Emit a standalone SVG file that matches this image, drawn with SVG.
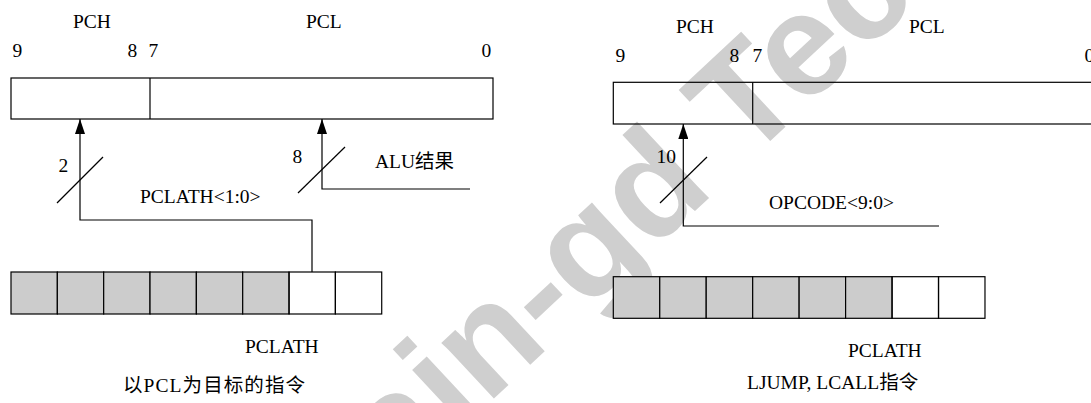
<svg xmlns="http://www.w3.org/2000/svg" width="1091" height="403" viewBox="0 0 1091 403">
  <style>
    .t { font-family: "Liberation Serif", "Noto Sans CJK SC", serif; font-size: 19.5px; fill: #000; }
    .box { fill: none; stroke: #000; stroke-width: 1.2; }
    .cellg { fill: #cccccc; stroke: #000; stroke-width: 1.2; }
    .cellw { fill: none; stroke: #000; stroke-width: 1.2; }
    .wire { fill: none; stroke: #000; stroke-width: 1.2; }
    .wm { font-family: "Liberation Sans", Arial, sans-serif; font-weight: bold; font-size: 145px; fill: #cfcfcf; }
  </style>
  <defs>
    <marker id="arr" viewBox="0 0 15 10" refX="15" refY="5" markerWidth="15" markerHeight="10" markerUnits="userSpaceOnUse" orient="auto">
      <path d="M0,0 L15,5 L0,10 z" fill="#000"/>
    </marker>
  </defs>
  <rect width="1091" height="403" fill="#fff"/>
  <text class="wm" transform="translate(398,488) rotate(-43)">ain-gd Tec</text>

  <g id="left-pc">
    <rect class="box" x="11" y="78" width="482" height="41"/>
    <line class="box" x1="150" y1="78" x2="150" y2="119"/>
    <text class="t" x="73" y="28">PCH</text>
    <text class="t" x="306" y="28">PCL</text>
    <text class="t" x="12.5" y="57">9</text>
    <text class="t" x="127.5" y="57">8</text>
    <text class="t" x="148.5" y="57">7</text>
    <text class="t" x="481.5" y="57">0</text>
  </g>
  <g id="left-pclath">
    <rect class="cellg" x="11" y="272" width="46.34" height="42"/>
    <rect class="cellg" x="57.34" y="272" width="46.34" height="42"/>
    <rect class="cellg" x="103.68" y="272" width="46.34" height="42"/>
    <rect class="cellg" x="150.02" y="272" width="46.34" height="42"/>
    <rect class="cellg" x="196.36" y="272" width="46.34" height="42"/>
    <rect class="cellg" x="242.7" y="272" width="46.34" height="42"/>
    <rect class="cellw" x="289.04" y="272" width="46.34" height="42"/>
    <rect class="cellw" x="335.38" y="272" width="46.34" height="42"/>
    <text class="t" x="245" y="353">PCLATH</text>
  </g>
  <g id="left-caption">
    <text class="t" x="123" y="392" textLength="182" lengthAdjust="spacing">以PCL为目标的指令</text>
  </g>

  <g id="right-pc">
    <rect class="box" x="613.3" y="82.3" width="500" height="41.7"/>
    <line class="box" x1="752.7" y1="82.3" x2="752.7" y2="124"/>
    <text class="t" x="676" y="33">PCH</text>
    <text class="t" x="909" y="33">PCL</text>
    <text class="t" x="615.5" y="62">9</text>
    <text class="t" x="729.5" y="62">8</text>
    <text class="t" x="752.5" y="62">7</text>
    <text class="t" x="1084.5" y="62">0</text>
  </g>
  <g id="right-pclath">
    <rect class="cellg" x="613.3" y="276.7" width="46.46" height="41.6"/>
    <rect class="cellg" x="659.76" y="276.7" width="46.46" height="41.6"/>
    <rect class="cellg" x="706.22" y="276.7" width="46.46" height="41.6"/>
    <rect class="cellg" x="752.68" y="276.7" width="46.46" height="41.6"/>
    <rect class="cellg" x="799.14" y="276.7" width="46.46" height="41.6"/>
    <rect class="cellg" x="845.6" y="276.7" width="46.46" height="41.6"/>
    <rect class="cellw" x="892.06" y="276.7" width="46.46" height="41.6"/>
    <rect class="cellw" x="938.52" y="276.7" width="46.46" height="41.6"/>
    <text class="t" x="848" y="357">PCLATH</text>
  </g>
  <g id="right-caption">
    <text class="t" x="747" y="389">LJUMP, LCALL指令</text>
  </g>

  <g id="connectors">
    <path class="wire" d="M312,272 V220 H80 V119" marker-end="url(#arr)"/>
    <line class="wire" x1="57" y1="203" x2="103" y2="157"/>
    <text class="t" x="58.5" y="172">2</text>
    <text class="t" x="140" y="203">PCLATH&lt;1:0&gt;</text>

    <path class="wire" d="M470,189 H322 V119" marker-end="url(#arr)"/>
    <line class="wire" x1="298" y1="193" x2="345" y2="147"/>
    <text class="t" x="292.5" y="163">8</text>
    <text class="t" x="375" y="168">ALU结果</text>

    <path class="wire" d="M939,226 H683.3 V124" marker-end="url(#arr)"/>
    <line class="wire" x1="660" y1="203" x2="707" y2="157"/>
    <text class="t" x="656.5" y="163">10</text>
    <text class="t" x="769" y="209">OPCODE&lt;9:0&gt;</text>
  </g>
</svg>
